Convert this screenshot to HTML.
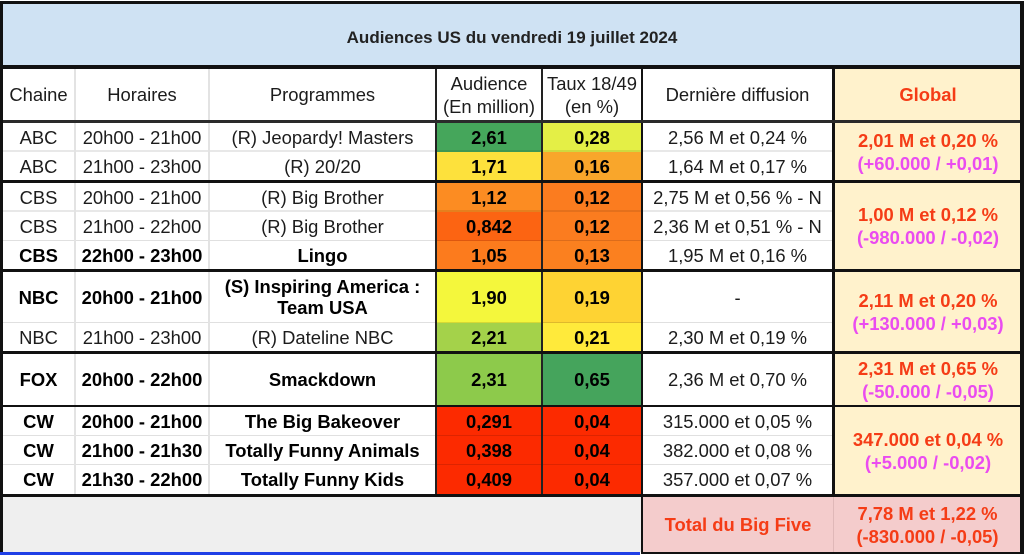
<!DOCTYPE html>
<html><head><meta charset="utf-8">
<style>
html,body{margin:0;padding:0;}
body{width:1024px;height:555px;position:relative;overflow:hidden;background:#fff;font-family:"Liberation Sans",Arial,sans-serif;}
.c{position:absolute;display:flex;align-items:center;justify-content:center;text-align:center;font-size:18.4px;line-height:21px;color:#1c1c1c;white-space:nowrap;}
.b{font-weight:bold;color:#000;}
.l{position:absolute;}
.r{color:#f53c16;font-weight:bold;}
.m{color:#ea4cf0;font-weight:bold;}
.g{background:#fff2cc;line-height:23px;flex-direction:column;}
</style></head><body>

<!-- title -->
<div class="c" style="left:3px;top:4px;width:1018px;height:62px;background:#cfe2f3;"></div>
<div class="c b" style="left:3px;top:6px;width:1018px;height:62px;font-size:17px;color:#222;">Audiences US du vendredi 19 juillet 2024</div>

<!-- header -->
<div class="c" style="left:3px;top:69px;width:71px;height:51px;">Chaine</div>
<div class="c" style="left:76px;top:69px;width:132px;height:51px;">Horaires</div>
<div class="c" style="left:210px;top:69px;width:225px;height:51px;">Programmes</div>
<div class="c" style="left:437px;top:69px;width:104px;height:51px;line-height:23px;">Audience<br>(En million)</div>
<div class="c" style="left:543px;top:69px;width:98px;height:51px;line-height:23px;">Taux 18/49<br>(en %)</div>
<div class="c" style="left:643px;top:69px;width:189px;height:51px;">Dernière diffusion</div>
<div class="c g r" style="left:835px;top:69px;width:186px;height:51px;">Global</div>

<!-- ABC1 -->
<div class="c" style="left:3px;top:123px;width:71px;height:28px;">ABC</div>
<div class="c" style="left:76px;top:123px;width:132px;height:28px;">20h00 - 21h00</div>
<div class="c" style="left:210px;top:123px;width:225px;height:28px;">(R) Jeopardy! Masters</div>
<div class="c b" style="left:437px;top:123px;width:104px;height:29px;background:#45a65b;">2,61</div>
<div class="c b" style="left:543px;top:123px;width:98px;height:29px;background:#e4ef46;">0,28</div>
<div class="c" style="left:643px;top:123px;width:189px;height:28px;">2,56 M et 0,24 %</div>
<!-- ABC2 -->
<div class="c" style="left:3px;top:152px;width:71px;height:28px;">ABC</div>
<div class="c" style="left:76px;top:152px;width:132px;height:28px;">21h00 - 23h00</div>
<div class="c" style="left:210px;top:152px;width:225px;height:28px;">(R) 20/20</div>
<div class="c b" style="left:437px;top:152px;width:104px;height:28px;background:#fde13c;">1,71</div>
<div class="c b" style="left:543px;top:152px;width:98px;height:28px;background:#f9a62b;">0,16</div>
<div class="c" style="left:643px;top:152px;width:189px;height:28px;">1,64 M et 0,17 %</div>
<div class="c g" style="left:835px;top:123px;width:186px;height:57px;"><span class="r">2,01 M et 0,20 %</span><span class="m">(+60.000 / +0,01)</span></div>

<!-- CBS1 -->
<div class="c" style="left:3px;top:183px;width:71px;height:28px;">CBS</div>
<div class="c" style="left:76px;top:183px;width:132px;height:28px;">20h00 - 21h00</div>
<div class="c" style="left:210px;top:183px;width:225px;height:28px;">(R) Big Brother</div>
<div class="c b" style="left:437px;top:183px;width:104px;height:29px;background:#fc8c22;">1,12</div>
<div class="c b" style="left:543px;top:183px;width:98px;height:29px;background:#fb7c1f;">0,12</div>
<div class="c" style="left:643px;top:183px;width:189px;height:28px;">2,75 M et 0,56 % - N</div>
<!-- CBS2 -->
<div class="c" style="left:3px;top:212px;width:71px;height:28px;">CBS</div>
<div class="c" style="left:76px;top:212px;width:132px;height:28px;">21h00 - 22h00</div>
<div class="c" style="left:210px;top:212px;width:225px;height:28px;">(R) Big Brother</div>
<div class="c b" style="left:437px;top:212px;width:104px;height:29px;background:#fc6412;">0,842</div>
<div class="c b" style="left:543px;top:212px;width:98px;height:29px;background:#fb7c1f;">0,12</div>
<div class="c" style="left:643px;top:212px;width:189px;height:28px;">2,36 M et 0,51 % - N</div>
<!-- CBS3 -->
<div class="c b" style="left:3px;top:241px;width:71px;height:28px;">CBS</div>
<div class="c b" style="left:76px;top:241px;width:132px;height:28px;">22h00 - 23h00</div>
<div class="c b" style="left:210px;top:241px;width:225px;height:28px;">Lingo</div>
<div class="c b" style="left:437px;top:241px;width:104px;height:28px;background:#fc7b1d;">1,05</div>
<div class="c b" style="left:543px;top:241px;width:98px;height:28px;background:#fb801f;">0,13</div>
<div class="c" style="left:643px;top:241px;width:189px;height:28px;">1,95 M et 0,16 %</div>
<div class="c g" style="left:835px;top:183px;width:186px;height:86px;"><span class="r">1,00 M et 0,12 %</span><span class="m">(-980.000 / -0,02)</span></div>

<!-- NBC1 -->
<div class="c b" style="left:3px;top:272px;width:71px;height:50px;">NBC</div>
<div class="c b" style="left:76px;top:272px;width:132px;height:50px;">20h00 - 21h00</div>
<div class="c b" style="left:210px;top:272px;width:225px;height:50px;">(S) Inspiring America :<br>Team USA</div>
<div class="c b" style="left:437px;top:272px;width:104px;height:51px;background:#f4f73c;">1,90</div>
<div class="c b" style="left:543px;top:272px;width:98px;height:51px;background:#fed333;">0,19</div>
<div class="c" style="left:643px;top:272px;width:189px;height:50px;">-</div>
<!-- NBC2 -->
<div class="c" style="left:3px;top:323px;width:71px;height:28px;">NBC</div>
<div class="c" style="left:76px;top:323px;width:132px;height:28px;">21h00 - 23h00</div>
<div class="c" style="left:210px;top:323px;width:225px;height:28px;">(R) Dateline NBC</div>
<div class="c b" style="left:437px;top:323px;width:104px;height:28px;background:#a4d24a;">2,21</div>
<div class="c b" style="left:543px;top:323px;width:98px;height:28px;background:#ffea3b;">0,21</div>
<div class="c" style="left:643px;top:323px;width:189px;height:28px;">2,30 M et 0,19 %</div>
<div class="c g" style="left:835px;top:272px;width:186px;height:79px;"><span class="r">2,11 M et 0,20 %</span><span class="m">(+130.000 / +0,03)</span></div>

<!-- FOX -->
<div class="c b" style="left:3px;top:354px;width:71px;height:51px;">FOX</div>
<div class="c b" style="left:76px;top:354px;width:132px;height:51px;">20h00 - 22h00</div>
<div class="c b" style="left:210px;top:354px;width:225px;height:51px;">Smackdown</div>
<div class="c b" style="left:437px;top:354px;width:104px;height:51px;background:#8dca4b;">2,31</div>
<div class="c b" style="left:543px;top:354px;width:98px;height:51px;background:#45a45c;">0,65</div>
<div class="c" style="left:643px;top:354px;width:189px;height:51px;">2,36 M et 0,70 %</div>
<div class="c g" style="left:835px;top:354px;width:186px;height:51px;"><span class="r">2,31 M et 0,65 %</span><span class="m">(-50.000 / -0,05)</span></div>

<!-- CW1 -->
<div class="c b" style="left:3px;top:407px;width:71px;height:28px;">CW</div>
<div class="c b" style="left:76px;top:407px;width:132px;height:28px;">20h00 - 21h00</div>
<div class="c b" style="left:210px;top:407px;width:225px;height:28px;">The Big Bakeover</div>
<div class="c b" style="left:437px;top:407px;width:104px;height:29px;background:#fc2a00;">0,291</div>
<div class="c b" style="left:543px;top:407px;width:98px;height:29px;background:#fc2a00;">0,04</div>
<div class="c" style="left:643px;top:407px;width:189px;height:28px;">315.000 et 0,05 %</div>
<!-- CW2 -->
<div class="c b" style="left:3px;top:436px;width:71px;height:28px;">CW</div>
<div class="c b" style="left:76px;top:436px;width:132px;height:28px;">21h00 - 21h30</div>
<div class="c b" style="left:210px;top:436px;width:225px;height:28px;">Totally Funny Animals</div>
<div class="c b" style="left:437px;top:436px;width:104px;height:29px;background:#fc2a00;">0,398</div>
<div class="c b" style="left:543px;top:436px;width:98px;height:29px;background:#fc2a00;">0,04</div>
<div class="c" style="left:643px;top:436px;width:189px;height:28px;">382.000 et 0,08 %</div>
<!-- CW3 -->
<div class="c b" style="left:3px;top:465px;width:71px;height:29px;">CW</div>
<div class="c b" style="left:76px;top:465px;width:132px;height:29px;">21h30 - 22h00</div>
<div class="c b" style="left:210px;top:465px;width:225px;height:29px;">Totally Funny Kids</div>
<div class="c b" style="left:437px;top:465px;width:104px;height:29px;background:#fc2a00;">0,409</div>
<div class="c b" style="left:543px;top:465px;width:98px;height:29px;background:#fc2a00;">0,04</div>
<div class="c" style="left:643px;top:465px;width:189px;height:29px;">357.000 et 0,07 %</div>
<div class="c g" style="left:835px;top:407px;width:186px;height:87px;"><span class="r">347.000 et 0,04 %</span><span class="m">(+5.000 / -0,02)</span></div>

<!-- Total row -->
<div class="l" style="left:3px;top:497px;width:638px;height:55px;background:#efefef;"></div>
<div class="c r" style="left:643px;top:497px;width:190px;height:55px;background:#f4cccc;">Total du Big Five</div>
<div class="l" style="left:833px;top:497px;width:1px;height:55px;background:#e0b8b8;"></div>
<div class="c r" style="left:834px;top:497px;width:187px;height:55px;background:#f4cccc;flex-direction:column;line-height:23px;"><span>7,78 M et 1,22 %</span><span>(-830.000 / -0,05)</span></div>

<!-- inner row separators -->
<div class="l" style="left:3px;top:150px;width:829px;height:2px;background:rgba(0,0,0,0.09);"></div>
<div class="l" style="left:3px;top:210px;width:829px;height:2px;background:rgba(0,0,0,0.09);"></div>
<div class="l" style="left:3px;top:240px;width:829px;height:1px;background:rgba(0,0,0,0.12);"></div>
<div class="l" style="left:3px;top:322px;width:829px;height:1px;background:rgba(0,0,0,0.12);"></div>
<div class="l" style="left:3px;top:435px;width:829px;height:1px;background:rgba(0,0,0,0.12);"></div>
<div class="l" style="left:3px;top:464px;width:829px;height:1px;background:rgba(0,0,0,0.12);"></div>

<!-- vertical lines -->
<div class="l" style="left:74px;top:69px;width:2px;height:425px;background:#e3e3e3;"></div>
<div class="l" style="left:208px;top:69px;width:2px;height:425px;background:#e3e3e3;"></div>
<div class="l" style="left:435px;top:69px;width:2px;height:425px;background:#222;"></div>
<div class="l" style="left:541px;top:69px;width:2px;height:425px;background:#222;"></div>
<div class="l" style="left:641px;top:69px;width:2px;height:483px;background:#111;"></div>
<div class="l" style="left:832px;top:66px;width:3px;height:431px;background:#111;"></div>

<!-- horizontal thick lines -->
<div class="l" style="left:0;top:1px;width:1024px;height:3px;background:#111;"></div>
<div class="l" style="left:0;top:65px;width:1024px;height:4px;background:#111;"></div>
<div class="l" style="left:0;top:120px;width:1024px;height:3px;background:#2a2a2a;"></div>
<div class="l" style="left:0;top:180px;width:1024px;height:3px;background:#111;"></div>
<div class="l" style="left:0;top:269px;width:1024px;height:3px;background:#111;"></div>
<div class="l" style="left:0;top:351px;width:1024px;height:3px;background:#111;"></div>
<div class="l" style="left:0;top:405px;width:1024px;height:2px;background:#111;"></div>
<div class="l" style="left:0;top:494px;width:1024px;height:3px;background:#111;"></div>
<div class="l" style="left:641px;top:552px;width:383px;height:2px;background:#111;"></div>

<!-- outer borders -->
<div class="l" style="left:0;top:1px;width:3px;height:551px;background:#111;"></div>
<div class="l" style="left:1020px;top:1px;width:4px;height:553px;background:#111;"></div>
<!-- blue bottom line -->
<div class="l" style="left:0;top:552px;width:640px;height:3px;background:#1f3fe6;"></div>

</body></html>
